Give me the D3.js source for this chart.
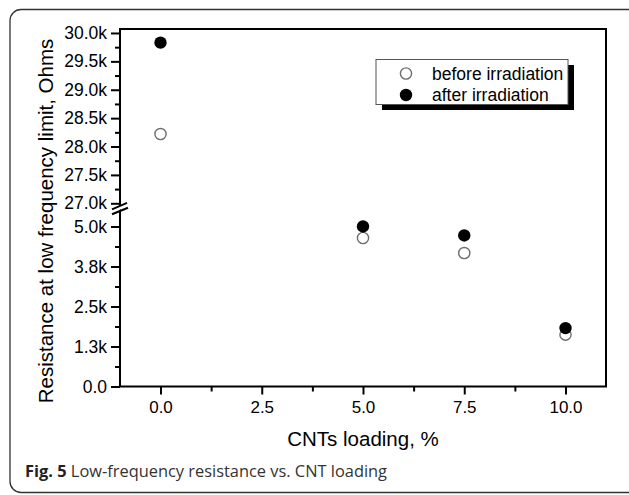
<!DOCTYPE html>
<html><head><meta charset="utf-8">
<script src="https://cdn.jsdelivr.net/npm/d3@7"></script>
<style>
html,body{margin:0;padding:0;background:#fff;}
svg{display:block;}
</style></head>
<body>
<script>
// ---- data ----
const loading = [0, 5, 7.5, 10];
const beforeIrr = [28220, 4640, 4170, 1620];
const afterIrr = [29830, 5020, 4720, 1825];
const xTicks = [0, 2.5, 5, 7.5, 10];
const xTickLabels = ["0.0", "2.5", "5.0", "7.5", "10.0"];
const xMinor = [1.25, 3.75, 6.25, 8.75];
const yLowTicks = [0, 1250, 2500, 3750, 5000];
const yLowLabels = ["0.0", "1.3k", "2.5k", "3.8k", "5.0k"];
const yLowMinor = [625, 1875, 3125, 4375];
const yHighTicks = [27000, 27500, 28000, 28500, 29000, 29500, 30000];
const yHighLabels = ["27.0k", "27.5k", "28.0k", "28.5k", "29.0k", "29.5k", "30.0k"];
const yHighMinor = [27250, 27750, 28250, 28750, 29250, 29750];
const seriesNames = ["before irradiation", "after irradiation"];

const W = 629, H = 495;
const L = 120, R = 606, T = 29, B = 386.5;
const svg = d3.select("body").append("svg").attr("width", W).attr("height", H);

// outer frame
svg.append("rect").attr("x", 10).attr("y", 9.5).attr("width", 640).attr("height", 483)
  .attr("rx", 11).attr("fill", "none").attr("stroke", "#333").attr("stroke-width", 1.3);

const x = d3.scaleLinear().domain([-1, 11]).range([L, R]);
// broken axis: piecewise linear scale
const y = d3.scaleLinear().domain([0, 5000, 27000, 30070]).range([B, 226.5, 203.3, T]);

const font = "'Liberation Sans', Arial, sans-serif";

// plot frame
svg.append("rect").attr("x", L).attr("y", T).attr("width", R - L).attr("height", B - T)
  .attr("fill", "none").attr("stroke", "#000").attr("stroke-width", 2);

function styleAxis(g, size) {
  g.select(".domain").remove();
  g.selectAll("line").attr("stroke", "#000").attr("stroke-width", 2);
  g.selectAll("text").attr("font-family", font).attr("font-size", size).attr("fill", "#000");
}

// x axis
svg.append("g").attr("transform", `translate(0,${B})`)
  .call(d3.axisBottom(x).tickValues(xTicks).tickFormat((d, i) => xTickLabels[i]).tickSize(8).tickPadding(6.5))
  .call(styleAxis, 17);
svg.append("g").attr("transform", `translate(0,${B})`)
  .call(d3.axisBottom(x).tickValues(xMinor).tickFormat("").tickSize(5))
  .call(styleAxis, 17);

// y axis (left)
const yAll = yLowTicks.concat(yHighTicks), yAllLab = yLowLabels.concat(yHighLabels);
svg.append("g").attr("transform", `translate(${L},0)`)
  .call(d3.axisLeft(y).tickValues(yAll).tickFormat((d, i) => yAllLab[i]).tickSize(9).tickPadding(4))
  .call(styleAxis, 17.5);
svg.append("g").attr("transform", `translate(${L},0)`)
  .call(d3.axisLeft(y).tickValues(yLowMinor.concat(yHighMinor)).tickFormat("").tickSize(5))
  .call(styleAxis, 17.5);

// break symbol
const by = y(27000);
svg.append("polygon")
  .attr("points", `${L-6},${by+5} ${L+6},${by} ${L+6},${by+4} ${L-6},${by+9}`)
  .attr("fill", "#fff");
svg.append("line").attr("x1", L - 8).attr("y1", by + 6).attr("x2", L + 7).attr("y2", by - 0.5)
  .attr("stroke", "#000").attr("stroke-width", 2);
svg.append("line").attr("x1", L - 8).attr("y1", by + 11).attr("x2", L + 8).attr("y2", by + 4.5)
  .attr("stroke", "#000").attr("stroke-width", 2);

// points
svg.append("g").selectAll("circle").data(loading).join("circle")
  .attr("cx", (d) => x(d)).attr("cy", (d, i) => y(beforeIrr[i])).attr("r", 5.6)
  .attr("fill", "#fff").attr("stroke", "#6e6e6e").attr("stroke-width", 1.4);
svg.append("g").selectAll("circle").data(loading).join("circle")
  .attr("cx", (d) => x(d)).attr("cy", (d, i) => y(afterIrr[i])).attr("r", 6.2)
  .attr("fill", "#000");

// legend
const lg = svg.append("g");
lg.append("rect").attr("x", 382).attr("y", 65).attr("width", 192).attr("height", 45).attr("fill", "#000");
lg.append("rect").attr("x", 376).attr("y", 59.5).attr("width", 192).attr("height", 45)
  .attr("fill", "#fff").attr("stroke", "#555").attr("stroke-width", 1);
lg.append("circle").attr("cx", 406).attr("cy", 73.5).attr("r", 5.6)
  .attr("fill", "#fff").attr("stroke", "#6e6e6e").attr("stroke-width", 1.4);
lg.append("circle").attr("cx", 406).attr("cy", 95).attr("r", 6.2).attr("fill", "#000");
lg.selectAll("text").data(seriesNames).join("text")
  .attr("x", 432).attr("y", (d, i) => 79.5 + i * 21.5)
  .attr("font-family", font).attr("font-size", 17.5).attr("fill", "#000").text((d) => d);

// axis titles
svg.append("text").attr("x", (L + R) / 2).attr("y", 446).attr("text-anchor", "middle")
  .attr("font-family", font).attr("font-size", 20.5).attr("fill", "#000").text("CNTs loading, %");
svg.append("text").attr("transform", "translate(53,221) rotate(-90)").attr("text-anchor", "middle")
  .attr("font-family", font).attr("font-size", 20.5).attr("fill", "#000")
  .text("Resistance at low frequency limit, Ohms");

// caption
const cap = svg.append("text").attr("x", 25).attr("y", 477)
  .attr("font-family", "'Open Sans', sans-serif").attr("font-size", 16.4).attr("fill", "#333");
cap.append("tspan").attr("font-weight", "bold").attr("fill", "#222").text("Fig. 5");
cap.append("tspan").text(" Low-frequency resistance vs. CNT loading");
</script>
</body></html>
